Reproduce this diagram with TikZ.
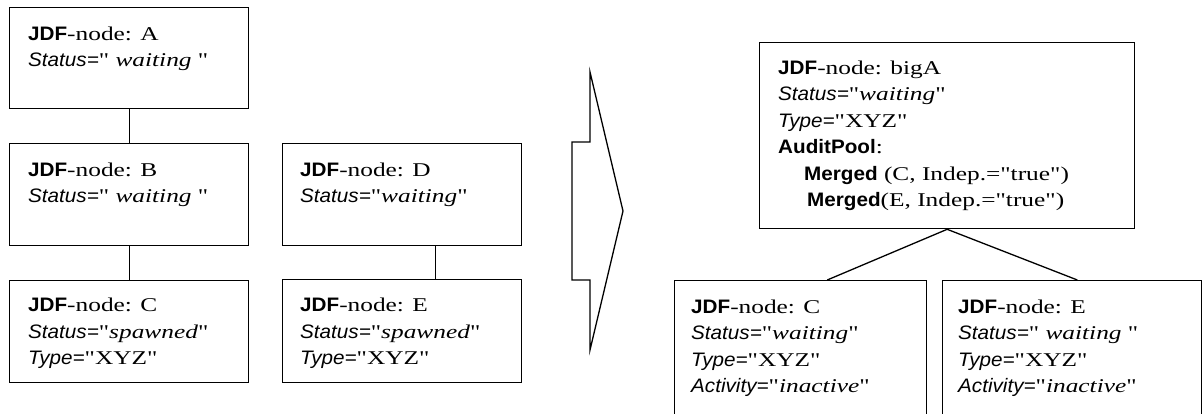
\documentclass[tikz,border=0pt]{standalone}
\usepackage{fontspec}
\setmainfont[FakeStretch=1.3,Ligatures=TeXOff]{Liberation Serif}
\setsansfont[FakeStretch=1.06,Ligatures=TeXOff]{Liberation Sans}
\usetikzlibrary{calc}
\newcommand\JDF{{\sffamily\bfseries JDF}}
\newcommand\attr[1]{{\sffamily\itshape #1}}
\newcommand\kw[1]{{\sffamily\bfseries #1}}
\newcommand\qq{\char34\relax}
\tikzset{
  box/.style={draw, line width=1.3pt, rectangle, anchor=north west, inner sep=0pt},
  txt/.style={anchor=north west, inner sep=0pt, align=left, font=\fontsize{19.5}{26.5}\selectfont},
  link/.style={line width=1.3pt},
}
\begin{document}
\begin{tikzpicture}[x=1pt,y=-1pt]
\clip (0,0) rectangle (1203,414);
\fill[white] (0,0) rectangle (1203,414);
% left column
\node[box, minimum width=239pt, minimum height=101pt] (A) at (9,7) {};
\node[box, minimum width=239pt, minimum height=102pt] (B) at (9,143) {};
\node[box, minimum width=239pt, minimum height=102pt] (C) at (9,280) {};
\node[box, minimum width=239pt, minimum height=102pt] (D) at (282,143) {};
\node[box, minimum width=239pt, minimum height=103pt] (E) at (282,279) {};
\node[txt] (At) at ($(A.north west)+(19,19.5)$) {\JDF-node: A\\\attr{Status=}\qq{} \textit{waiting} \qq};
\node[txt] (Bt) at ($(B.north west)+(19,19.5)$) {\JDF-node: B\\\attr{Status=}\qq{} \textit{waiting} \qq};
\node[txt] (Ct) at ($(C.north west)+(19,18)$) {\JDF-node: C\\\attr{Status=}\qq\textit{spawned}\qq\\\attr{Type=}\qq XYZ\qq};
\node[txt] (Dt) at ($(D.north west)+(18,19.5)$) {\JDF-node: D\\\attr{Status=}\qq\textit{waiting}\qq};
\node[txt] (Et) at ($(E.north west)+(18,19)$) {\JDF-node: E\\\attr{Status=}\qq\textit{spawned}\qq\\\attr{Type=}\qq XYZ\qq};
\draw[link] (A.south) -- (B.north);
\draw[link] (B.south) -- (C.north);
\draw[link] ($(D.south west)!0.64!(D.south east)$) -- ($(E.north west)!0.64!(E.north east)$);
% big arrow
\draw[line width=1.3pt, line join=miter] (572,142) -- (590,142) -- (590,72) -- (623,211) -- (590,350) -- (590,280) -- (572,280) -- cycle;
% right side
\node[box, minimum width=375pt, minimum height=186pt] (bigA) at (759,42) {};
\node[txt] (bigAt) at ($(bigA.north west)+(19,18.5)$) {\JDF-node: bigA\\\attr{Status=}\qq\textit{waiting}\qq\\\attr{Type=}\qq XYZ\qq\\\kw{AuditPool}:\\\hspace*{26pt}\kw{Merged} (C, Indep.=\qq true\qq)\\\hspace*{29pt}\kw{Merged}(E, Indep.=\qq true\qq)};
\node[box, minimum width=252pt, minimum height=160pt] (C2) at (674,280) {};
\node[box, minimum width=259pt, minimum height=160pt] (E2) at (942,280) {};
\node[txt] (C2t) at ($(C2.north west)+(17,19.5)$) {\JDF-node: C\\\attr{Status=}\qq\textit{waiting}\qq\\\attr{Type=}\qq XYZ\qq\\\attr{Activity=}\qq\textit{inactive}\qq};
\node[txt] (E2t) at ($(E2.north west)+(16,19.5)$) {\JDF-node: E\\\attr{Status=}\qq{} \textit{waiting} \qq\\\attr{Type=}\qq XYZ\qq\\\attr{Activity=}\qq\textit{inactive}\qq};
\draw[link] (bigA.south) -- ($(C2.north west)!0.605!(C2.north east)$);
\draw[link] (bigA.south) -- ($(E2.north west)!0.52!(E2.north east)$);
\end{tikzpicture}
\end{document}
